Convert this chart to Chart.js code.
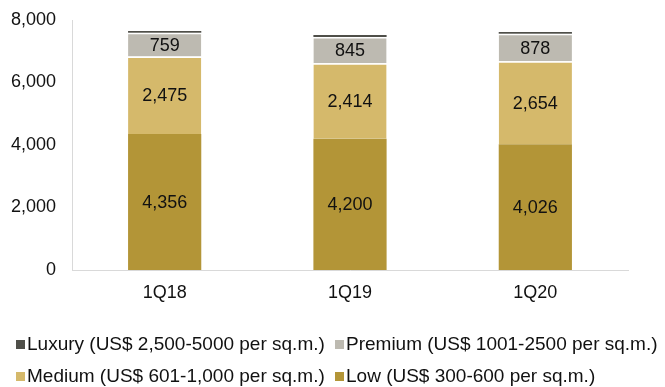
<!DOCTYPE html>
<html>
<head>
<meta charset="utf-8">
<script src="https://cdn.jsdelivr.net/npm/chart.js@4/dist/chart.umd.min.js"></script>
<style>
  html, body { margin: 0; padding: 0; background: #fff; }
  #wrap { width: 665px; height: 387px; }
</style>
</head>
<body>
<div id="wrap"><canvas id="c" width="665" height="387"></canvas></div>
<script>
// Residential supply by price segment (units)
const quarters = ['1Q18', '1Q19', '1Q20'];
const lowUnits = [4356, 4200, 4026];
const mediumUnits = [2475, 2414, 2654];
const premiumUnits = [759, 845, 878];
const luxuryUnits = [60, 60, 60];
const yTicks = [0, 2000, 4000, 6000, 8000];

const seriesNames = {
  luxury: 'Luxury (US$ 2,500-5000 per sq.m.)',
  premium: 'Premium (US$ 1001-2500 per sq.m.)',
  medium: 'Medium (US$ 601-1,000 per sq.m.)',
  low: 'Low (US$ 300-600 per sq.m.)'
};

const FONT = '"Liberation Sans", Arial, sans-serif';
const fmt = v => v.toLocaleString('en-US');

function seg(label, data, color, showValue, topLine) {
  return {
    label, data,
    backgroundColor: color,
    borderColor: '#ffffff',
    borderWidth: topLine ? { top: 1.5, bottom: 0, left: 0, right: 0 } : 0,
    borderSkipped: false,
    categoryPercentage: 1,
    barPercentage: 0.395,
    showValue
  };
}

// Value labels centred in each labelled segment
const valueLabels = {
  id: 'valueLabels',
  afterDatasetsDraw(chart) {
    const ctx = chart.ctx;
    ctx.save();
    ctx.font = '18px ' + FONT;
    ctx.fillStyle = '#111';
    ctx.textAlign = 'center';
    ctx.textBaseline = 'middle';
    chart.data.datasets.forEach((ds, i) => {
      if (!ds.showValue) return;
      chart.getDatasetMeta(i).data.forEach((bar, j) => {
        const y = (bar.y + bar.base) / 2;
        ctx.fillText(fmt(ds.data[j]), bar.x, y + 1);
      });
    });
    ctx.restore();
  }
};

// Two-column legend below the plot
const gridLegend = {
  id: 'gridLegend',
  afterDraw(chart) {
    const ctx = chart.ctx;
    const order = [
      { ds: 3, col: 0, row: 0 },
      { ds: 2, col: 1, row: 0 },
      { ds: 1, col: 0, row: 1 },
      { ds: 0, col: 1, row: 1 }
    ];
    const colX = [16, 335];
    const rowY = [345, 377];
    ctx.save();
    ctx.font = '19px ' + FONT;
    ctx.textBaseline = 'middle';
    ctx.textAlign = 'left';
    order.forEach(o => {
      const ds = chart.data.datasets[o.ds];
      const x = colX[o.col], y = rowY[o.row];
      ctx.fillStyle = ds.backgroundColor;
      ctx.fillRect(x, y - 5, 9, 9);
      ctx.fillStyle = '#111';
      ctx.fillText(ds.label, x + 11, y);
    });
    ctx.restore();
  }
};

new Chart(document.getElementById('c'), {
  type: 'bar',
  data: {
    labels: quarters,
    datasets: [
      seg(seriesNames.low, lowUnits, '#b39537', true, false),
      seg(seriesNames.medium, mediumUnits, '#d5b96b', true, true),
      seg(seriesNames.premium, premiumUnits, '#bdbab1', true, true),
      seg(seriesNames.luxury, luxuryUnits, '#4f4f49', false, false)
    ]
  },
  options: {
    responsive: false,
    animation: false,
    events: [],
    layout: { padding: { top: 20, right: 37, left: 0, bottom: 0 } },
    plugins: { legend: { display: false }, tooltip: { enabled: false } },
    scales: {
      x: {
        stacked: true,
        grid: { display: false, drawTicks: false },
        border: { display: true, color: '#d9d9d9', width: 1 },
        ticks: { color: '#111', font: { family: FONT, size: 18 }, padding: 12 },
        afterFit: s => { s.height = 117; }
      },
      y: {
        stacked: true,
        min: 0,
        max: 8000,
        afterBuildTicks: s => { s.ticks = yTicks.map(v => ({ value: v })); },
        grid: { display: false, drawTicks: false },
        border: { display: true, color: '#d9d9d9', width: 1 },
        ticks: { color: '#111', font: { family: FONT, size: 18 }, padding: 16, callback: v => fmt(v) },
        afterFit: s => { s.width = 72; s.paddingTop = 0; s.paddingBottom = 0; }
      }
    }
  },
  plugins: [valueLabels, gridLegend]
});
</script>
</body>
</html>
